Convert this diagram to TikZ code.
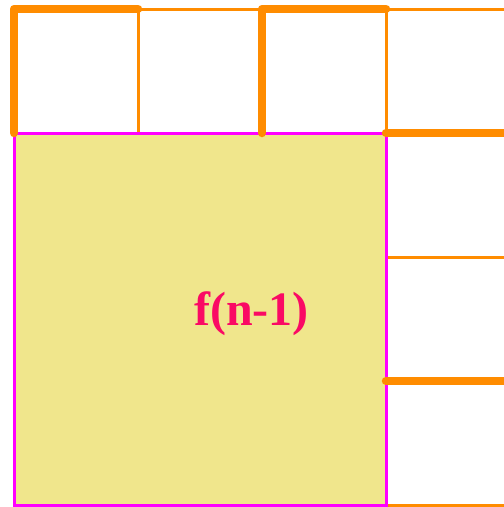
\documentclass[tikz,border=0pt]{standalone}
\usepackage{fontspec}
\newfontfamily\lblfont{Liberation Serif}
\definecolor{gridorange}{RGB}{255,140,0}
\definecolor{sqfill}{RGB}{240,230,140}
\definecolor{sqborder}{RGB}{255,0,255}
\definecolor{labelred}{RGB}{250,10,100}
\begin{document}
\begin{tikzpicture}[x=1pt,y=-1pt,
  thinline/.style={draw=gridorange,line width=3pt},
  thickline/.style={draw=gridorange,line width=8.5pt,line cap=round,line join=round},
  bigsquare/.style={fill=sqfill,draw=sqborder,line width=3pt},
  lbl/.style={text=labelred,font=\lblfont\fontsize{48}{52}\selectfont\bfseries}]
\useasboundingbox (0,0) rectangle (504,507);
% grid coordinates
\coordinate (a0) at (14,9);   \coordinate (b0) at (138,9);
\coordinate (c0) at (262,9);  \coordinate (d0) at (386,9);
\coordinate (e0) at (510,9);
\coordinate (a1) at (14,133); \coordinate (b1) at (138,133);
\coordinate (c1) at (262,133);\coordinate (d1) at (386,133);
\coordinate (e1) at (510,133);
\coordinate (d2) at (386,257);\coordinate (e2) at (510,257);
\coordinate (d3) at (386,381);\coordinate (e3) at (510,381);
\coordinate (a4) at (14,505); \coordinate (d4) at (386,505);
\coordinate (e4) at (510,505);
% thin grid
\draw[thinline] (a0) -- (e0);
\draw[thinline] (b0) -- (b1);
\draw[thinline] (d0) -- (d1);
\draw[thinline] (d2) -- (e2);
\draw[thinline] (d4) -- (e4);
% square
\draw[bigsquare] (a1) rectangle (d4);
\node[lbl] (f) at (251.5,314) {f(n-1)};
% thick path segments
\draw[thickline] (a1) -- (a0) -- (b0);
\draw[thickline] (c1) -- (c0) -- (d0);
\draw[thickline] (d1) -- (e1);
\draw[thickline] (d3) -- (e3);
\end{tikzpicture}
\end{document}
